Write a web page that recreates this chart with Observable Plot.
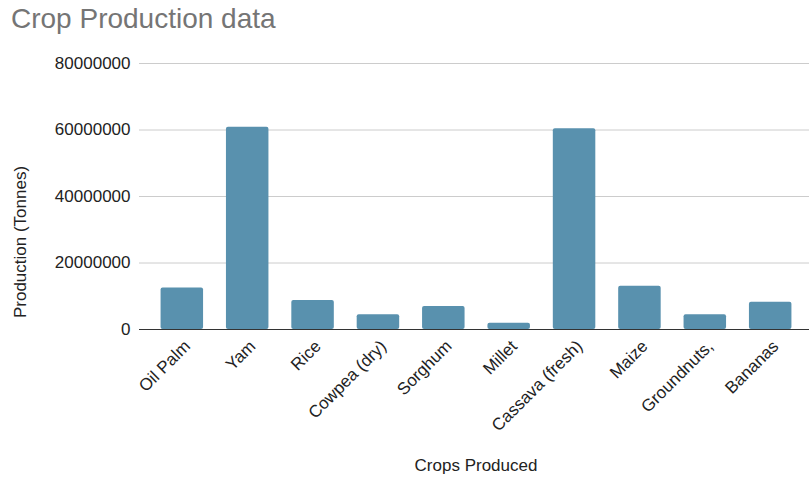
<!DOCTYPE html>
<html>
<head>
<meta charset="utf-8">
<script src="https://cdn.jsdelivr.net/npm/d3@7"></script>
<script src="https://cdn.jsdelivr.net/npm/@observablehq/plot@0.6"></script>
<style>
  html, body { margin: 0; padding: 0; background: #fff; }
  #wrap { position: relative; width: 809px; height: 479px; font-family: "Liberation Sans", Arial, sans-serif; overflow: hidden; }
  #title { position: absolute; left: 11px; top: 3px; font-size: 28px; color: #757575; white-space: nowrap; }
  #ylab { position: absolute; left: 21px; top: 242px; transform: translate(-50%, -50%) rotate(-90deg); font-size: 17px; color: #222; white-space: nowrap; }
  #xlab { position: absolute; left: 476px; top: 456px; transform: translateX(-50%); font-size: 17px; color: #222; white-space: nowrap; }
  #chart { position: absolute; left: 0; top: 0; }
</style>
</head>
<body>
<div id="wrap">
  <div id="chart"></div>
  <div id="title">Crop Production data</div>
  <div id="ylab">Production (Tonnes)</div>
  <div id="xlab">Crops Produced</div>
</div>
<script>
const crops = ["Oil Palm", "Yam", "Rice", "Cowpea (dry)", "Sorghum", "Millet", "Cassava (fresh)", "Maize", "Groundnuts,", "Bananas"];
const production = [12500000, 60800000, 8700000, 4400000, 6900000, 1900000, 60400000, 13000000, 4400000, 8200000];
const yTicks = [0, 20000000, 40000000, 60000000, 80000000];

const data = crops.map((c, i) => ({crop: c, value: production[i]}));

const chart = Plot.plot({
  width: 809,
  height: 479,
  marginTop: 63,
  marginBottom: 150,
  marginLeft: 139,
  marginRight: -4,
  style: { fontFamily: "Liberation Sans, Arial, sans-serif", fontSize: "17px", color: "#222", background: "transparent", overflow: "hidden" },
  x: { domain: crops, paddingInner: 0.35, paddingOuter: 0.33, round: false, label: null },
  y: { domain: [0, 80000000], label: null },
  marks: [
    Plot.gridY(yTicks, { stroke: "#cccccc", strokeOpacity: 1, strokeWidth: 1 }),
    Plot.axisY(yTicks, { tickSize: 0, tickPadding: 9, tickFormat: d3.format("d"), label: null, fontSize: 17 }),
    Plot.axisX({ tickSize: 0, tickRotate: -45, tickPadding: 14, dx: 5, label: null, fontSize: 17 }),
    Plot.barY(data, { x: "crop", y: "value", fill: "#5991ae", rx: 2 }),
    Plot.ruleY([0], { stroke: "#333", strokeWidth: 1 })
  ]
});
document.getElementById("chart").appendChild(chart);
</script>
</body>
</html>
